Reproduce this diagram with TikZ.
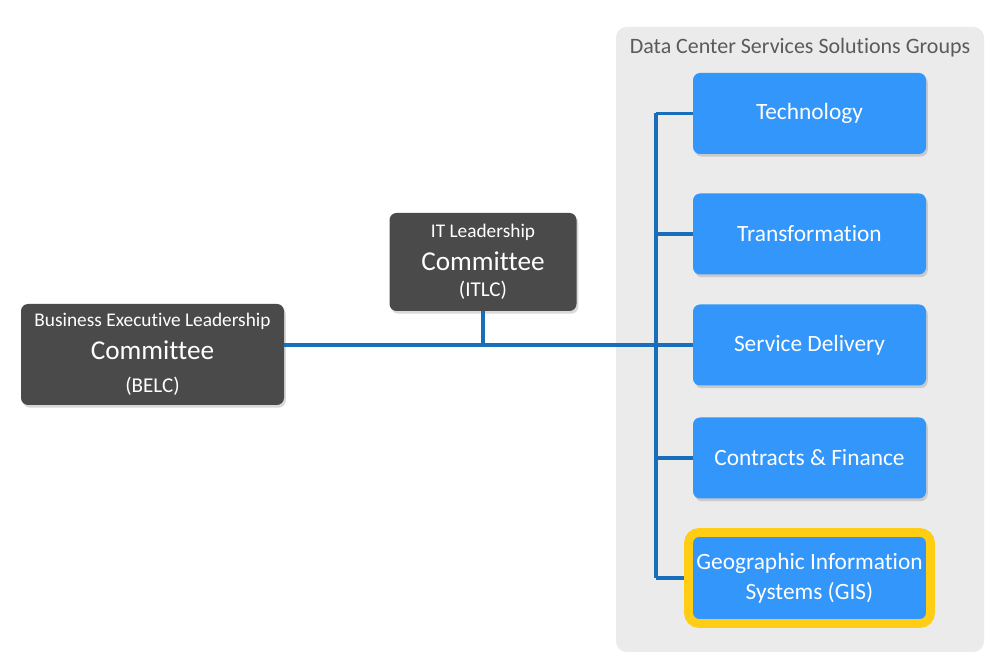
\documentclass[tikz,border=0pt]{standalone}
\usepackage{fontspec}
\setmainfont[Ligatures=NoCommon]{Carlito}
\usetikzlibrary{positioning, shadows}
\definecolor{boxblue}{RGB}{50,150,250}
\definecolor{linkblue}{RGB}{25,110,185}
\definecolor{darkbox}{RGB}{74,74,74}
\definecolor{panelgray}{RGB}{235,235,235}
\definecolor{headgray}{RGB}{90,90,90}
\definecolor{gisyellow}{RGB}{255,205,20}
\tikzset{
  committee/.style={rectangle, rounded corners=4pt, fill=darkbox, text=white,
                    align=center, inner sep=0pt,
                    drop shadow={opacity=0.3, shadow xshift=1pt, shadow yshift=-1.5pt}},
  group/.style={rectangle, rounded corners=4pt, fill=boxblue, text=white,
                minimum width=4.66cm, minimum height=1.62cm, align=center, inner sep=2pt,
                font=\fontsize{13.3}{15}\selectfont,
                drop shadow={opacity=0.3, shadow xshift=1pt, shadow yshift=-1.5pt}},
  link/.style={draw=linkblue, line width=2pt},
}
\begin{document}
\begin{tikzpicture}
  \useasboundingbox (0,0) rectangle (20,13.34);
  % solutions groups panel
  \fill[panelgray, rounded corners=6pt] (12.32,0.3) rectangle (19.68,12.8);
  \node[text=headgray, font=\fontsize{12.5}{15}\selectfont] (head) at (16.0,12.38)
    {Data Center Services Solutions Groups};
  \coordinate (trunk) at (13.12,0);

  % committees
  \node[committee, minimum width=5.26cm, minimum height=2.02cm] (belc) at (3.05,6.25)
    {{\fontsize{11}{13}\selectfont Business Executive Leadership}\\[5pt]
     {\fontsize{15.5}{17}\selectfont Committee}\\[7pt]
     {\fontsize{12}{14}\selectfont (BELC)}};
  \node[committee, minimum width=3.74cm, minimum height=1.96cm] (itlc) at (9.66,8.1)
    {{\fontsize{11}{13}\selectfont IT Leadership}\\[5pt]
     {\fontsize{15.5}{17}\selectfont Committee}\\[3pt]
     {\fontsize{12}{14}\selectfont (ITLC)}};

  % groups
  \node[group] (tech) at (16.19,11.07) {Technology};
  \node[group] (trans) at (16.19,8.66) {Transformation};
  \node[group] (sd) at (16.19,6.44) {Service Delivery};
  \node[group] (cf) at (16.19,4.18) {Contracts \& Finance};
  \node[group, draw=gisyellow, line width=5pt, minimum width=4.84cm, minimum height=1.82cm,
        rounded corners=6pt] (gis) at (16.19,1.78)
    {Geographic Information\\[2pt]Systems (GIS)};

  % connectors
  \draw[link] (belc.east |- sd.west) -- (sd.west);
  \draw[link] (itlc.south) -- (itlc.south |- sd.west);
  \draw[link] (tech.west -| trunk) -- (gis.west -| trunk);
  \foreach \g in {tech, trans, cf, gis}
    \draw[link] (\g.west -| trunk) -- (\g.west);
\end{tikzpicture}
\end{document}
